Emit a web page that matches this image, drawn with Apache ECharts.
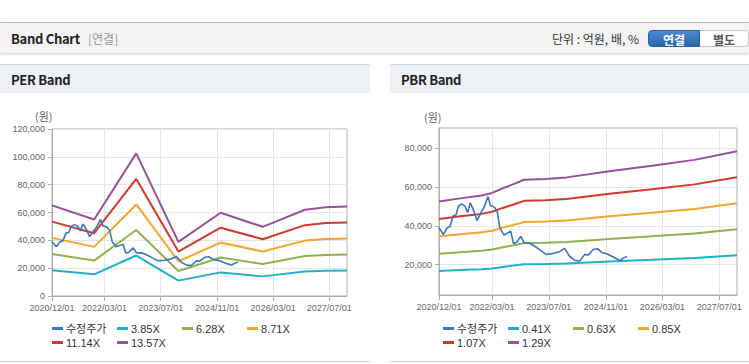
<!DOCTYPE html>
<html>
<head>
<meta charset="utf-8">
<script src="https://cdn.jsdelivr.net/npm/echarts@6/dist/echarts.min.js"></script>
<style>
  html, body { margin:0; padding:0; background:#fff; }
  body { width:749px; height:364px; position:relative; overflow:hidden; font-family:"Noto Sans CJK KR", "Liberation Sans", sans-serif; }
  .abs { position:absolute; }
  .btn { position:absolute; top:30px; height:17px; line-height:17px; text-align:center; font-size:12px; font-weight:bold; box-sizing:border-box; }
  .on { background:linear-gradient(#4a88cf,#2c66ad); color:#fff; border:1px solid #2a5f9e; border-radius:4px 0 0 4px; }
  .off { background:#fff; color:#555; border:1px solid #c6c6c6; border-left:none; border-radius:0 4px 4px 0; }
  #chart { position:absolute; left:0; top:0; width:749px; height:364px; z-index:5; }
</style>
</head>
<body>
<div class="abs" style="left:0;top:22px;width:749px;height:1px;background:#bdbdbd"></div>
<div class="abs" style="left:0;top:23px;width:749px;height:30px;background:#f4f4f4;box-shadow:0 1px 3px rgba(0,0,0,.22)"></div>
<div class="abs" style="left:11px;top:30px;font-size:13px;line-height:18px;font-weight:bold;color:#222;letter-spacing:-0.3px">Band Chart</div>
<div class="abs" style="left:88px;top:30px;font-size:12px;line-height:18px;color:#999">[연결]</div>
<div class="abs" style="left:552px;top:30px;font-size:12px;line-height:18px;color:#333">단위 : 억원, 배, %</div>
<div class="btn on" style="left:648px;width:52px">연결</div>
<div class="btn off" style="left:700px;width:49px">별도</div>

<div class="abs" style="left:0;top:64px;width:370px;height:28px;background:#eef1f6;border-top:1px solid #d6d6d6"></div>
<div class="abs" style="left:11px;top:71px;font-size:13px;line-height:18px;font-weight:bold;color:#222;letter-spacing:-0.3px">PER Band</div>
<div class="abs" style="left:0;top:361px;width:370px;height:1px;background:#d0d0d0"></div>

<div class="abs" style="left:390px;top:64px;width:359px;height:28px;background:#eef1f6;border-top:1px solid #d6d6d6"></div>
<div class="abs" style="left:401px;top:71px;font-size:13px;line-height:18px;font-weight:bold;color:#222;letter-spacing:-0.3px">PBR Band</div>
<div class="abs" style="left:390px;top:361px;width:359px;height:1px;background:#d0d0d0"></div>

<div id="chart"></div>
<script>
// ---------- data ----------
const xTickLabels = ['2020/12/01','2022/03/01','2023/07/01','2024/11/01','2026/03/01','2027/07/01'];
const xStart = '2020/12/01';
const xEnd = '2027/12/01';

const perTickLabels = [0, 20000, 40000, 60000, 80000, 100000, 120000];
const pbrTickLabels = [20000, 40000, 60000, 80000];

const priceDates = ['2020/12/01','2021/01/08','2021/02/07','2021/03/05','2021/04/01','2021/04/26','2021/05/17','2021/06/15','2021/07/13','2021/08/04','2021/08/26','2021/09/25','2021/10/23','2021/11/21','2021/12/26','2022/01/25','2022/02/16','2022/03/21','2022/04/14','2022/05/07','2022/06/11','2022/07/10','2022/08/08','2022/09/01','2022/09/29','2022/11/03','2022/12/02','2023/01/15','2023/02/28','2023/04/24','2023/06/07','2023/08/04','2023/10/01','2023/11/14','2023/12/27','2024/02/10','2024/03/22','2024/05/05','2024/06/03','2024/07/16','2024/08/20','2024/09/27','2024/11/10','2024/12/22','2025/02/05','2025/03/04','2025/04/02','2025/05/01'];
const priceValues = [39000,35500,38900,39500,45200,45600,50200,51300,50000,46800,51800,47800,42700,46100,50000,55000,50400,49600,47300,38900,35300,36200,37200,30900,31500,34600,31100,31000,29600,27200,25300,25700,26700,28400,24200,22200,21900,25300,25000,27800,28200,26300,25600,24300,22900,22200,23500,24200];

const perDates = ['2020/12/01','2021/12/01','2022/12/01','2023/12/01','2024/12/01','2025/12/01','2026/12/01','2027/06/01','2027/12/01'];
const per385  = [18470,15600,29080,11040,16970,14100,17590,18100,18270];
const per628  = [30130,25450,47430,18010,27680,23000,28690,29530,29810];
const per871  = [41780,35300,65790,24970,38390,31910,39800,40950,41340];
const per1114 = [53440,45150,84140,31940,49090,40810,50900,52380,52870];
const per1357 = [65100,55000,102490,38910,59800,49710,62000,63810,64400];

const pbrDates = ['2020/12/01','2021/06/01','2021/12/01','2022/03/01','2022/06/01','2022/09/01','2022/12/01','2023/06/01','2023/12/01','2024/12/01','2025/12/01','2026/12/01','2027/12/01'];
const pbr041 = [16690,17200,17670,18090,18850,19520,20250,20370,20630,21640,22530,23490,24890];
const pbr063 = [25640,26420,27150,27790,28960,29990,31110,31310,31700,33260,34630,36090,38240];
const pbr085 = [34590,35650,36640,37490,39070,40460,41970,42240,42760,44870,46720,48690,51590];
const pbr107 = [43550,44870,46120,47200,49190,50930,52840,53170,53830,56490,58810,61300,64950];
const pbr129 = [52500,54100,55600,56900,59300,61400,63700,64100,64900,68100,70900,73900,78300];

const perNames = ['수정주가','3.85X','6.28X','8.71X','11.14X','13.57X'];
const pbrNames = ['수정주가','0.41X','0.63X','0.85X','1.07X','1.29X'];
const colors = ['#3a76c4','#1db2c8','#8db34b','#f5a52c','#d8372b','#98509c'];

// ---------- helpers ----------
function toTime(s){ const p = s.split('/'); return new Date(+p[0], +p[1]-1, +p[2]).getTime(); }
function pairs(dates, vals){ return dates.map((d,i)=>[toTime(d), vals[i]]); }
function pad(n){ return (n<10?'0':'')+n; }
function fmtDate(v){ const d = new Date(v); return d.getFullYear()+'/'+pad(d.getMonth()+1)+'/'+pad(d.getDate()); }
function commas(v){ return String(Math.round(v)).replace(/\B(?=(\d{3})+(?!\d))/g, ','); }

const xTicks = xTickLabels.map(toTime);
const AX = '#adadad', GRIDC = '#e6e6e6';
const labelFont = { fontSize: 9, color: '#666', fontFamily: 'Liberation Sans, Arial, sans-serif' };

function xAxisDef(gi){
  return {
    type: 'value', gridIndex: gi, min: toTime(xStart), max: toTime(xEnd),
    axisLine: { show: true, lineStyle: { color: AX } },
    axisTick: { show: true, length: 5, lineStyle: { color: AX }, customValues: xTicks },
    axisLabel: Object.assign({ customValues: xTicks, formatter: fmtDate, margin: 7, hideOverlap: false }, labelFont),
    splitLine: { show: true, lineStyle: { color: GRIDC } }
  };
}
function yAxisDef(gi, min, max, ticks){
  return {
    type: 'value', gridIndex: gi, min: min, max: max,
    axisLine: { show: true, lineStyle: { color: AX } },
    axisTick: { show: true, length: 4, lineStyle: { color: AX }, customValues: ticks },
    axisLabel: Object.assign({ customValues: ticks, formatter: commas, margin: 7 }, labelFont),
    splitLine: { show: true, lineStyle: { color: GRIDC } }
  };
}
function lineSeries(name, gi, data, color, width, z){
  return { name: name, type: 'line', xAxisIndex: gi, yAxisIndex: gi, data: data, showSymbol: false, symbol: 'none',
    lineStyle: { color: color, width: width }, itemStyle: { color: color }, z: z, silent: true };
}
// one legend entry per slot: 4 per row, 65px apart, rows 14px apart
function legendsFor(left0, names){
  return names.map((n, i) => ({
    left: left0 + (i % 4) * 65, top: 323 + Math.floor(i / 4) * 14,
    itemWidth: 11, itemHeight: 3, icon: 'rect', padding: 0,
    selectedMode: false, data: [n],
    textStyle: { fontSize: 11, color: '#333', padding: [0, 0, 0, -2], fontFamily: 'Liberation Sans, "Noto Sans CJK KR", sans-serif' }
  }));
}

const perBands = [per385, per628, per871, per1114, per1357];
const pbrBands = [pbr041, pbr063, pbr085, pbr107, pbr129];

const series = [];
perBands.forEach((b,i)=> series.push(lineSeries(perNames[i+1], 0, pairs(perDates, b), colors[i+1], 2, 2)));
series.push(lineSeries(perNames[0], 0, pairs(priceDates, priceValues), colors[0], 1.6, 3));
pbrBands.forEach((b,i)=> series.push(lineSeries(pbrNames[i+1], 1, pairs(pbrDates, b), colors[i+1], 2, 2)));
series.push(lineSeries(pbrNames[0], 1, pairs(priceDates, priceValues), colors[0], 1.6, 3));

const chart = echarts.init(document.getElementById('chart'), null, { renderer: 'svg' });
chart.setOption({
  animation: false,
  backgroundColor: 'transparent',
  color: colors,
  grid: [
    { left: 52, top: 129, width: 295, height: 167, show: true, borderColor: AX, borderWidth: 1, containLabel: false },
    { left: 439, top: 128, width: 298, height: 167, show: true, borderColor: AX, borderWidth: 1, containLabel: false }
  ],
  xAxis: [ xAxisDef(0), xAxisDef(1) ],
  yAxis: [ yAxisDef(0, 0, 120000, perTickLabels), yAxisDef(1, 4400, 90300, pbrTickLabels) ],
  legend: legendsFor(52, perNames).concat(legendsFor(443, pbrNames)),
  graphic: [
    { type: 'text', left: 35, top: 110, style: { text: '(원)', fill: '#666', font: '11px "Noto Sans CJK KR"', letterSpacing: 2 } },
    { type: 'text', left: 424, top: 111, style: { text: '(원)', fill: '#666', font: '11px "Noto Sans CJK KR"', letterSpacing: 2 } }
  ],
  series: series
});
</script>
</body>
</html>
